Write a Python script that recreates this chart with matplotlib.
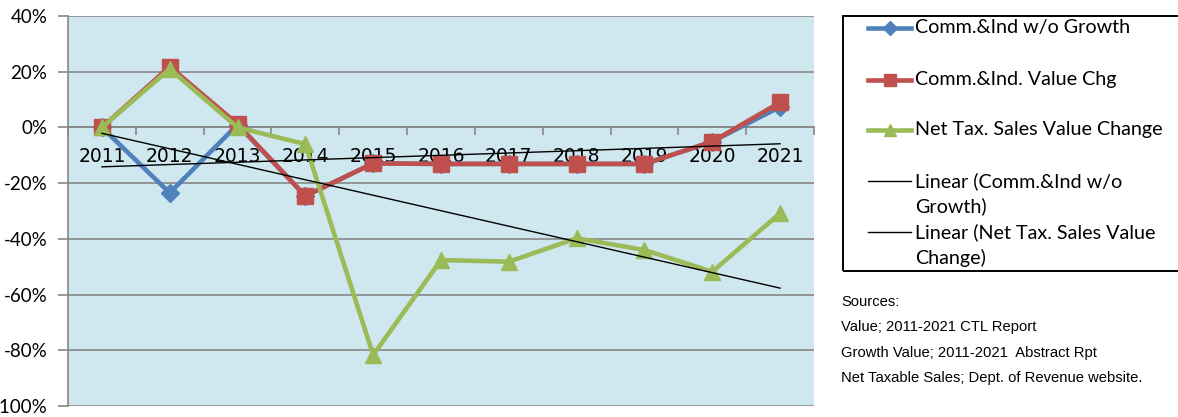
import numpy as np
import matplotlib
matplotlib.use("Agg")
import matplotlib.pyplot as plt
from matplotlib.lines import Line2D
from matplotlib.patches import Rectangle
from matplotlib.ticker import FuncFormatter, FixedLocator

years = ["2011", "2012", "2013", "2014", "2015", "2016", "2017", "2018", "2019", "2020", "2021"]
comm_wo_growth = [0.0, -23.5, 1.0, -24.6, -12.9, -13.1, -13.1, -13.1, -13.1, -5.1, 7.4]
comm_value_chg = [0.0, 21.8, 1.2, -24.6, -12.9, -13.1, -13.1, -13.1, -13.1, -5.1, 9.0]
net_tax_sales = [0.0, 21.0, 0.0, -6.0, -81.7, -47.6, -48.2, -39.8, -44.0, -51.8, -30.8]

series_labels = ["Comm.&Ind w/o Growth", "Comm.&Ind. Value Chg", "Net Tax. Sales Value Change"]
trend_labels = [["Linear (Comm.&Ind w/o", "Growth)"], ["Linear (Net Tax. Sales Value", "Change)"]]
sources = ["Sources:", "Value; 2011-2021 CTL Report",
           "Growth Value; 2011-2021  Abstract Rpt",
           "Net Taxable Sales; Dept. of Revenue website."]

BLUE = "#4F81BD"
RED = "#C0504D"
GREEN = "#9BBB59"
GRID = "#878787"
BG = "#CFE7EE"
FONT = "Lato"

W, H = 1178, 417
fig = plt.figure(figsize=(W / 100, H / 100), dpi=100)
ax = fig.add_axes([68 / W, (H - 406) / H, 746 / W, 390 / H])
ax.set_facecolor(BG)

x = np.arange(len(years))
ax.plot(x, comm_wo_growth, color=BLUE, lw=3.3, marker="D", ms=9.5, zorder=3)
ax.plot(x, comm_value_chg, color=RED, lw=3.3, marker="s", ms=11, zorder=4)
ax.plot(x, net_tax_sales, color=GREEN, lw=3.3, marker="^", ms=12, zorder=5)

for data in (comm_wo_growth, net_tax_sales):
    m, b = np.polyfit(x, data, 1)
    ax.plot(x, m * x + b, color="black", lw=1.0, zorder=6)

ax.set_xlim(-0.5, len(years) - 0.5)
ax.set_ylim(-100, 40)
ax.set_yticks(np.arange(-100, 41, 20))
ax.yaxis.set_major_formatter(FuncFormatter(lambda v, p: f"{int(round(v))}%"))
ax.grid(axis="y", color=GRID, lw=1.2, zorder=1)
ax.set_axisbelow(True)

ax.set_xticks(x)
ax.set_xticklabels(years)
ax.xaxis.set_minor_locator(FixedLocator(np.arange(-0.5, len(years), 1.0)))
ax.tick_params(axis="x", which="major", length=0, pad=14, labelsize=13.5)
ax.tick_params(axis="x", which="minor", length=6, color=GRID, width=1.2, direction="out")
ax.tick_params(axis="y", length=7, color=GRID, width=1.2, pad=8, labelsize=13.5)
for lab in ax.get_xticklabels() + ax.get_yticklabels():
    lab.set_fontfamily(FONT)

ax.spines["bottom"].set_position(("data", 0))
ax.spines["bottom"].set_color(GRID)
ax.spines["bottom"].set_linewidth(1.2)
ax.spines["bottom"].set_zorder(2)
ax.spines["left"].set_color(GRID)
ax.spines["left"].set_linewidth(1.2)
ax.spines["top"].set_visible(False)
ax.spines["right"].set_visible(False)


def fx(px):
    return px / W


def fy(py):
    return 1 - py / H


# Legend box (drawn in figure pixel coordinates)
fig.patches.append(Rectangle((fx(843), fy(271)), fx(1178 + 5) - fx(843), fy(16) - fy(271),
                             transform=fig.transFigure, fill=False, ec="black", lw=1.4))
handles = [
    (BLUE, "D", 7, 3.3, 28),
    (RED, "s", 8, 3.3, 80),
    (GREEN, "^", 9, 3.3, 130),
    ("black", None, 0, 1.0, 181),
    ("black", None, 0, 1.0, 232),
]
labels = series_labels + trend_labels
for (c, mk, ms, lw, yy), lab in zip(handles, labels):
    fig.lines.append(Line2D([fx(868), fx(911)], [fy(yy), fy(yy)], transform=fig.transFigure,
                            color=c, lw=lw))
    if mk:
        fig.lines.append(Line2D([fx(889.5)], [fy(yy)], transform=fig.transFigure,
                                color=c, marker=mk, ms=ms, lw=0))
    lines = lab if isinstance(lab, list) else [lab]
    for k, t in enumerate(lines):
        fig.text(fx(915), fy(yy + k * 25.5), t, fontsize=14.2, family=FONT, va="center",
                 transform=fig.transFigure)

for i, s in enumerate(sources):
    fig.text(fx(841), fy(302 + i * 25.3), s, fontsize=10.6, family="Liberation Sans",
             va="center", transform=fig.transFigure)

fig.savefig("out.png", dpi=100)
